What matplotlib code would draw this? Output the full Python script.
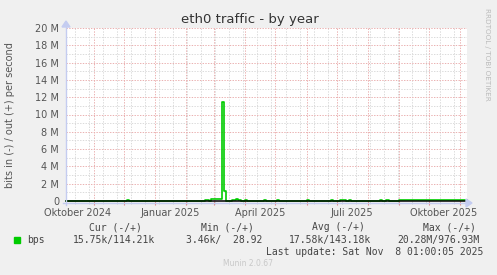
import matplotlib
matplotlib.use('Agg')
import matplotlib.pyplot as plt
import matplotlib.dates as mdates
import matplotlib.ticker as mticker
import pandas as pd
from matplotlib.patches import Rectangle

W, H = 497, 275

# out (+) traffic, step points (start date, Mbit/s)
out_dates = ['2024-10-04', '2024-12-04', '2024-12-06', '2025-02-20', '2025-02-24',
             '2025-02-26', '2025-03-09', '2025-03-11', '2025-03-13', '2025-03-19',
             '2025-03-23', '2025-03-25', '2025-03-28', '2025-04-01', '2025-04-03',
             '2025-04-20', '2025-04-22', '2025-05-03', '2025-05-05', '2025-06-01',
             '2025-06-03', '2025-06-25', '2025-06-27', '2025-07-04', '2025-07-10',
             '2025-07-13', '2025-07-15', '2025-08-13', '2025-08-15', '2025-08-19',
             '2025-08-22', '2025-09-01', '2025-11-08']
out_mbps = [0.0, 0.12, 0.0, 0.1, 0.0,
            0.25, 11.4, 1.1, 0.0, 0.1,
            0.25, 0.1, 0.0, 0.15, 0.0,
            0.12, 0.0, 0.12, 0.0, 0.12,
            0.0, 0.12, 0.0, 0.12, 0.0,
            0.12, 0.0, 0.12, 0.0, 0.12,
            0.0, 0.12, 0.12]

label_dates = ['2024-10-16', '2025-01-16', '2025-04-16', '2025-07-16', '2025-10-16']
label_texts = ['Oktober 2024', 'Januar 2025', 'April 2025', 'Juli 2025', 'Oktober 2025']

legend_heads = ['Cur (-/+)', 'Min (-/+)', 'Avg (-/+)', 'Max (-/+)']
legend_vals = ['15.75k/114.21k', '3.46k/  28.92', '17.58k/143.18k', '20.28M/976.93M']
legend_x = [89, 201, 312, 423]
legend_val_x = [73, 186, 289, 397]

t_start = pd.Timestamp('2024-10-04 01:00')
t_end = pd.Timestamp('2025-11-08 01:00')


def fx(x):
    return x / W


def fy(y):
    return 1 - y / H


fig = plt.figure(figsize=(W / 100, H / 100), dpi=100, facecolor='#F0F0F0')
ax = fig.add_axes([fx(66), 74 / H, 401 / W, 173 / H], facecolor='white')
for s in ax.spines.values():
    s.set_visible(False)

dates = pd.to_datetime(out_dates)
vals = [v * 1e6 for v in out_mbps]
ax.step(dates, vals, where='post', color='#00CC00', lw=1.2, zorder=3, clip_on=False)
ax.axhline(0, color='black', lw=1.1, zorder=5, clip_on=False)

ax.set_xlim(t_start, t_end)
ax.set_ylim(0, 20e6)

# y grid
ax.yaxis.set_major_locator(mticker.MultipleLocator(2e6))
ax.yaxis.set_minor_locator(mticker.MultipleLocator(1e6))
ax.yaxis.set_major_formatter(mticker.FuncFormatter(
    lambda v, p: '0' if v == 0 else '%d M' % round(v / 1e6)))
ax.tick_params(axis='y', which='both', length=0, labelsize=7, labelcolor='#555555', pad=5)

# x grid: months (red) and every second sunday (grey)
ax.xaxis.set_major_locator(mdates.MonthLocator())
minor_days = pd.date_range('2024-10-13', '2025-11-08', freq='14D')
ax.set_xticks(minor_days, minor=True)
ax.tick_params(axis='x', which='major', direction='out', length=3, color='#E08888',
               labelbottom=False)
ax.tick_params(axis='x', which='minor', direction='out', length=2, color='#CCCCCC',
               labelbottom=False)

ax.grid(True, which='major', color='#EAB0B0', lw=0.7, linestyle=(0, (1.4, 1.4)), zorder=1)
ax.grid(True, which='minor', color='#DADADA', lw=0.7, linestyle=(0, (1.4, 1.4)), zorder=0)
ax.set_axisbelow(True)

for d, t in zip(label_dates, label_texts):
    ax.text(pd.Timestamp(d), -11.7 / 173 * 20e6, t, ha='center', va='center',
            fontsize=7, color='#555555', clip_on=False)

# axis arrows
arrow_col = '#C4CCF0'
fig.add_artist(plt.Line2D([fx(63), fx(466)], [fy(203), fy(203)], color=arrow_col, lw=1))
fig.add_artist(plt.Line2D([fx(66), fx(66)], [fy(205), fy(27)], color=arrow_col, lw=1))
fig.patches.append(plt.Polygon([[fx(466), fy(199)], [fx(472), fy(203)], [fx(466), fy(207)]],
                               closed=True, color=arrow_col, transform=fig.transFigure))
fig.patches.append(plt.Polygon([[fx(62), fy(27)], [fx(66), fy(21)], [fx(70), fy(27)]],
                               closed=True, color=arrow_col, transform=fig.transFigure))

fig.text(fx(250), fy(19), 'eth0 traffic - by year', ha='center', va='center',
         fontsize=9.5, color='#333333')
fig.text(fx(10), fy(115), 'bits in (-) / out (+) per second', rotation=90,
         ha='center', va='center', fontsize=7, color='#555555')
fig.text(fx(487), fy(54), 'RRDTOOL / TOBI OETIKER', rotation=270, ha='center',
         va='center', fontsize=5.2, color='#BBBBBB')

mono = 'DejaVu Sans Mono'
for x, t in zip(legend_x, legend_heads):
    fig.text(fx(x), fy(227), t, ha='left', va='center', fontsize=7, family=mono,
             color='#444444')
fig.patches.append(Rectangle((fx(14), fy(243)), 6 / W, 6 / H, color='#00CC00',
                             transform=fig.transFigure))
fig.text(fx(27), fy(240), 'bps', ha='left', va='center', fontsize=7, family=mono,
         color='#444444')
for x, t in zip(legend_val_x, legend_vals):
    fig.text(fx(x), fy(240), t, ha='left', va='center', fontsize=7, family=mono,
             color='#444444')
fig.text(fx(483), fy(252), 'Last update: Sat Nov  8 01:00:05 2025', ha='right',
         va='center', fontsize=7, family=mono, color='#444444')
fig.text(fx(248), fy(263), 'Munin 2.0.67', ha='center', va='center', fontsize=5.5,
         color='#C8C8C8')

fig.savefig('out.png', dpi=100, facecolor=fig.get_facecolor())
